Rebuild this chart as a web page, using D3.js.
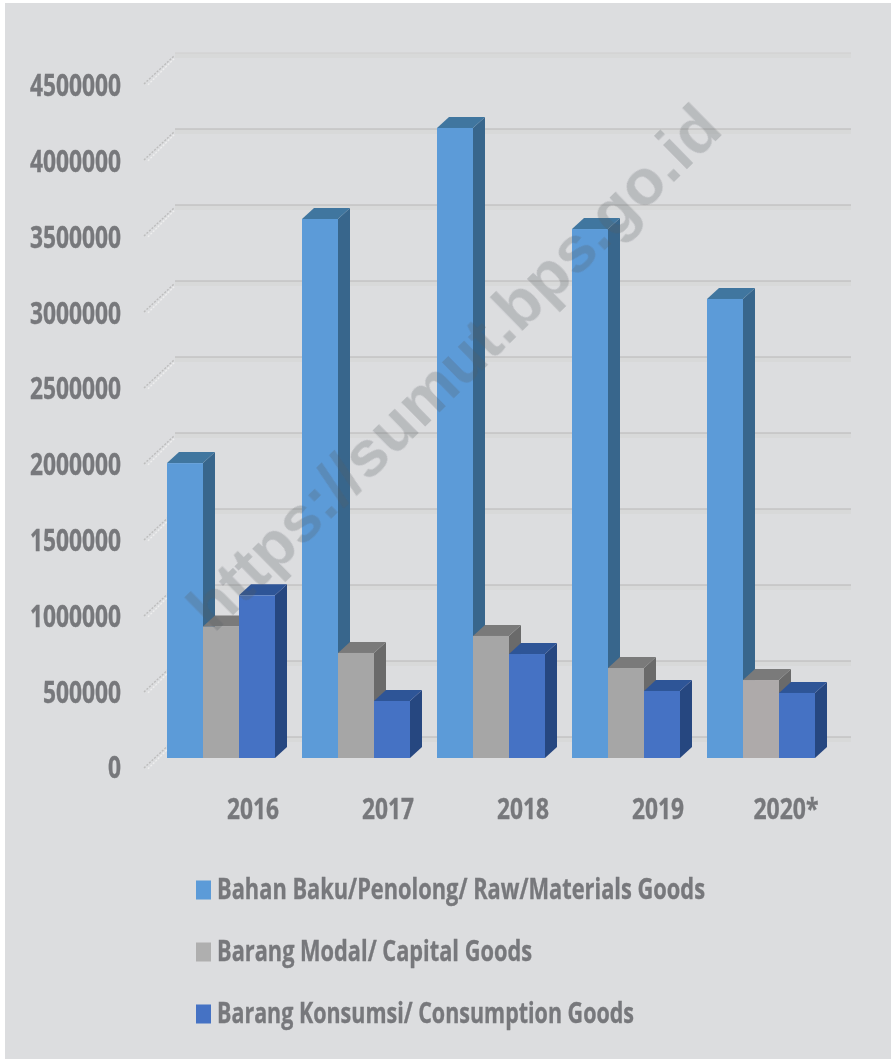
<!DOCTYPE html>
<html><head><meta charset="utf-8">
<script src="https://cdn.jsdelivr.net/npm/d3@7"></script>
<style>html,body{margin:0;padding:0;background:#fff}svg{display:block}</style>
</head><body><div id="chart"></div>
<script>
const years = ["2016","2017","2018","2019","2020*"];
const rawMaterials = [1940000,3546000,4145000,3480000,3020000];
const capitalGoods = [865000,691000,803000,592000,513000];
const consumptionGoods = [1070000,375000,684000,441000,428000];
const seriesNames = ["Bahan Baku/Penolong/ Raw/Materials Goods","Barang Modal/ Capital Goods","Barang Konsumsi/ Consumption Goods"];
const yTicks = [0,500000,1000000,1500000,2000000,2500000,3000000,3500000,4000000,4500000];
const watermark = "https://sumut.bps.go.id";

const W=891,H=1059;
const styles=[
 {front:"#5b9bd8",top:"#41769f",side:"#38668c"},
 {front:"#a6a6a6",top:"#7a7a7a",side:"#6a6a6a"},
 {front:"#4472c4",top:"#2f5597",side:"#284680"}];
const series=[rawMaterials,capitalGoods,consumptionGoods];
const textCol="#77787b";

const svg=d3.select("#chart").append("svg").attr("width",W).attr("height",H);
const defs=svg.append("defs");
defs.append("filter").attr("id","soft").attr("x","-5%").attr("y","-5%").attr("width","110%").attr("height","110%")
  .append("feGaussianBlur").attr("stdDeviation",0.65);

svg.append("rect").attr("x",5).attr("y",3).attr("width",W-5).attr("height",H-3).attr("fill","#dcdddf");

const backY=d3.scaleLinear().domain([0,4500000]).range([737,53]);
const labelY=d3.scaleLinear().domain([0,4500000]).range([767,85]);
const frontY=d3.scaleLinear().domain([0,4500000]).range([758,74]);
const x0=d3.scaleBand().domain(years).range([167,815]).paddingInner(0.2).paddingOuter(0);
const x1=d3.scaleBand().domain(d3.range(3)).range([0,x0.bandwidth()]);
const dx=12,dy=11;

const g=svg.append("g").attr("filter","url(#soft)");

// back-wall gridlines and their depth stubs
const grid=g.append("g");
yTicks.forEach(t=>{
  const y=backY(t);
  grid.append("rect").attr("x",175).attr("y",y).attr("width",676).attr("height",5).attr("fill","#d8d9d9");
  grid.append("line").attr("x1",175).attr("x2",851).attr("y1",y).attr("y2",y)
    .attr("stroke",t>=4500000?"#d0d0d0":"#b8b8b8").attr("stroke-width",1.2);
  [0,4].forEach((o,i)=>grid.append("line")
    .attr("x1",144+o).attr("y1",y+31+o*0.2).attr("x2",174+o*0.3).attr("y2",y+3+o*0.4)
    .attr("stroke",i?"#eeeeee":"#bdbdbd").attr("stroke-width",1.4).attr("stroke-dasharray","2 1.5"));
});

// axis labels through a d3 axis
const yAxis=g.append("g").attr("transform","translate(121,0)")
  .call(d3.axisLeft(labelY).tickValues(yTicks).tickSize(0).tickPadding(0).tickFormat(d3.format("d")));
yAxis.select(".domain").remove();
yAxis.selectAll("text").attr("font-family","'Open Sans'").attr("font-weight",700).attr("font-size",30)
  .attr("fill",textCol).attr("stroke",textCol).attr("stroke-width",0.35).attr("dy","0.36em").attr("x",0)
  .attr("textLength",function(){return this.textContent.length*13;}).attr("lengthAdjust","spacingAndGlyphs");

// 3D bars
years.forEach((yr,i)=>{
  const grp=g.append("g").attr("transform",`translate(${x0(yr)},0)`);
  series.forEach((vals,s)=>{
    const st=styles[s];
    const x=x1(s),w=x1.bandwidth(),t=frontY(vals[i]),b=frontY(0);
    grp.append("path").attr("d",`M${x+w},${t}L${x+w+dx},${t-dy}L${x+w+dx},${b-dy}L${x+w},${b}Z`).attr("fill",st.side);
    grp.append("path").attr("d",`M${x},${t}L${x+dx},${t-dy}L${x+w+dx},${t-dy}L${x+w},${t}Z`).attr("fill",st.top);
    grp.append("rect").attr("x",x).attr("y",t).attr("width",w).attr("height",b-t)
      .attr("fill",(s===1&&i===4)?"#aeaaaa":st.front);
  });
});

// category labels
const xAxis=g.append("g").attr("transform","translate(32,809)")
  .call(d3.axisBottom(x0).tickSize(0).tickPadding(0));
xAxis.select(".domain").remove();
xAxis.selectAll("text").attr("font-family","'Open Sans'").attr("font-weight",700).attr("font-size",28.5)
  .attr("fill",textCol).attr("stroke",textCol).attr("stroke-width",0.35).attr("y",0).attr("dy","0.36em")
  .attr("x",function(){return this.textContent.length>4?-7:0;})
  .attr("textLength",function(){return this.textContent.length*13;})
  .attr("lengthAdjust","spacingAndGlyphs");

// legend
const legendY=d3.scalePoint().domain(seriesNames).range([889,1013]);
const legendW=[488,315,417];
seriesNames.forEach((n,i)=>{
  const y=legendY(n);
  g.append("rect").attr("x",196).attr("y",y-8.5).attr("width",15).attr("height",19).attr("fill",i===1?"#afafaf":styles[i].front);
  g.append("text").attr("x",217).attr("y",y).attr("dy","0.36em").text(n)
    .attr("font-family","'Open Sans'").attr("font-weight",700).attr("font-size",29)
    .attr("fill",textCol).attr("stroke",textCol).attr("stroke-width",0.35)
    .attr("textLength",legendW[i]).attr("lengthAdjust","spacingAndGlyphs");
});

// watermark
svg.append("text").text(watermark).attr("transform","translate(214,634) rotate(-44.5)")
  .attr("font-family","'Liberation Sans'").attr("font-weight",700).attr("font-size",65)
  .attr("fill","#555a5f").attr("fill-opacity",0.26).attr("textLength",716).attr("lengthAdjust","spacingAndGlyphs")
  .attr("filter","url(#soft)");
</script></body></html>
